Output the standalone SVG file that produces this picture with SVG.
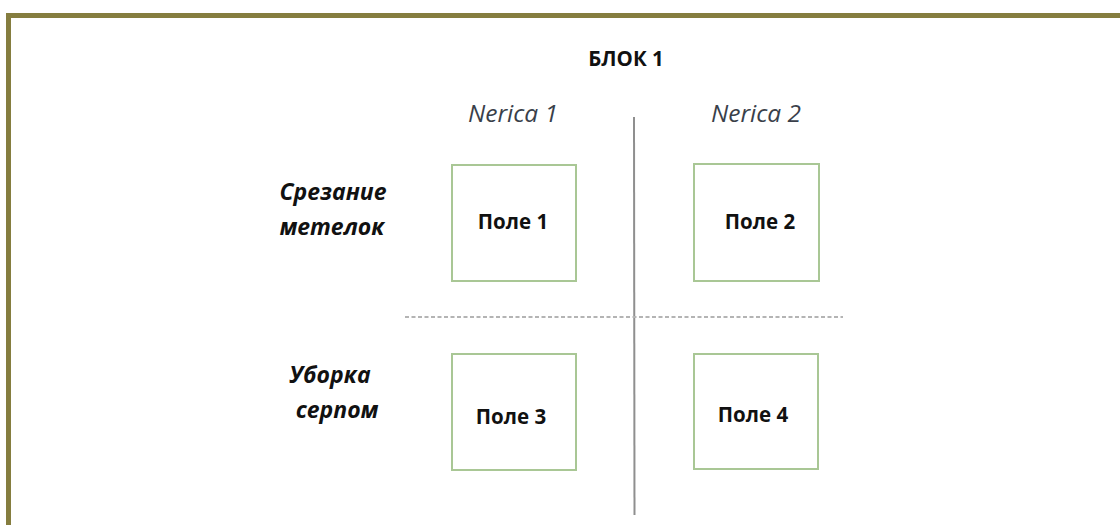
<svg xmlns="http://www.w3.org/2000/svg" width="1120" height="525" viewBox="0 0 1120 525">
  <style>
    .frame { fill: none; stroke: #857d3f; stroke-width: 5; }
    .field { fill: #ffffff; stroke: #a9c795; stroke-width: 2; }
    .fieldLabel { font-family: "Open Sans", "Noto Sans", sans-serif; font-weight: bold; font-size: 20.5px; fill: #111; text-anchor: middle; }
    .variety { font-family: "Open Sans", "Noto Sans", sans-serif; font-style: italic; font-size: 24.5px; fill: #3a3f4a; text-anchor: middle; }
    .method { font-family: "Open Sans", "Noto Sans", sans-serif; font-style: italic; font-weight: bold; font-size: 23px; fill: #111; text-anchor: middle; }
    .title { font-family: "Open Sans", "Noto Sans", sans-serif; font-weight: bold; font-size: 20.5px; fill: #111; text-anchor: middle; }
  </style>
  <rect width="1120" height="525" fill="#ffffff"/>
  <!-- outer border, open at right and bottom -->
  <rect class="frame" x="8.5" y="15.5" width="1130" height="530"/>

  <text class="title" x="626" y="66">БЛОК 1</text>
  <text class="variety" x="513" y="122">Nerica 1</text>
  <text class="variety" x="756" y="122">Nerica 2</text>

  <g id="row-labels">
    <text class="method" x="333" y="200">Срезание</text>
    <text class="method" x="332" y="235">метелок</text>
    <text class="method" x="330" y="383">Уборка</text>
    <text class="method" x="337" y="418">серпом</text>
  </g>

  <g id="connectors">
    <line x1="634" y1="117" x2="634.5" y2="515" stroke="#8f8f8f" stroke-width="2"/>
    <line x1="405" y1="317" x2="843" y2="317" stroke="#b4b4b4" stroke-width="2" stroke-dasharray="4,2.5"/>
  </g>

  <g id="field1">
    <rect class="field" x="452" y="165" width="124" height="116"/>
    <text class="fieldLabel" x="513" y="229">Поле 1</text>
  </g>
  <g id="field2">
    <rect class="field" x="694" y="164" width="125" height="117"/>
    <text class="fieldLabel" x="760" y="229">Поле 2</text>
  </g>
  <g id="field3">
    <rect class="field" x="452" y="354" width="124" height="116"/>
    <text class="fieldLabel" x="511" y="424">Поле 3</text>
  </g>
  <g id="field4">
    <rect class="field" x="694" y="354" width="124" height="115"/>
    <text class="fieldLabel" x="753" y="422">Поле 4</text>
  </g>
</svg>
